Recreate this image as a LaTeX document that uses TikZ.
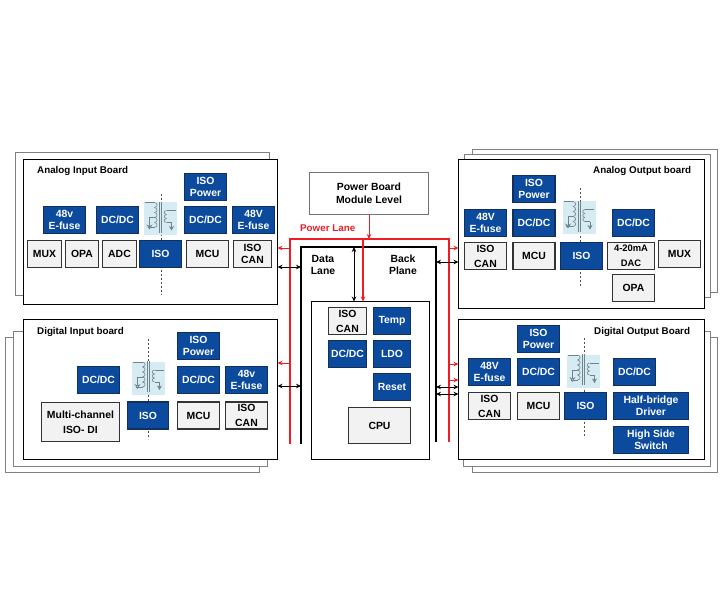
\documentclass[tikz,border=0pt]{standalone}
\usepackage{fontspec}
\usetikzlibrary{arrows.meta}
\setmainfont{Liberation Sans}
\definecolor{blockblue}{HTML}{0B4A9C}
\definecolor{blockedge}{HTML}{12305C}
\definecolor{blockgray}{HTML}{F2F2F2}
\definecolor{lanered}{HTML}{EE1C25}
\definecolor{tilecyan}{HTML}{D6ECF2}
\definecolor{coilgray}{HTML}{6F858C}
\newcommand{\lbl}{\fontsize{10.4}{12.5}\selectfont\bfseries}
\newcommand{\ttl}{\fontsize{9.8}{12}\selectfont\bfseries}
\tikzset{
  >={Stealth[length=5pt,width=4.5pt]},
  plate/.style={draw=black!50,fill=white,line width=0.9pt,inner sep=0pt,outer sep=0pt},
  board/.style={draw=black,fill=white,line width=1.2pt,inner sep=0pt,outer sep=0pt},
  blueblk/.style={draw=blockedge,fill=blockblue,text=white,line width=1.1pt,font=\lbl,align=center,
    minimum width=42pt,minimum height=27pt,inner sep=0pt,outer sep=0pt},
  grayblk/.style={draw=black!80,fill=blockgray,text=black,line width=1.1pt,font=\lbl,align=center,
    minimum width=42pt,minimum height=27pt,inner sep=0pt,outer sep=0pt},
  title/.style={font=\ttl,anchor=west,inner sep=0pt},
  barrier/.style={draw=black!70,line width=0.7pt,dash pattern=on 2pt off 2pt},
  redrail/.style={draw=lanered,line width=1.6pt},
  blackrail/.style={draw=black,line width=1.3pt},
  redlink/.style={draw=lanered,line width=0.8pt,->},
  datalink/.style={draw=black,line width=0.8pt,<->},
  coil/.style={draw=coilgray,line width=0.6pt},
  xfmr/.pic={
    \fill[tilecyan] (-16.5,-16.5) rectangle (16.5,16.5);
    \draw[coil] (-15.5,-16) -- (-6,-16);
    \foreach \i in {0,...,4}
      \draw[coil] (-6,-16+\i*5) .. controls (-2.5,-15.5+\i*5) and (-2.5,-11.5+\i*5) .. (-6,-11+\i*5);
    \draw[coil] (-6,9) -- (-13,9);
    \draw[coil] (-6,-1) -- (-11,-1) -- (-11,8);
    \draw[coil,-{Stealth[open,length=5pt,width=6pt]}] (-11,-1) -- (-11,11);
    \draw[coil,line width=0.8pt] (-0.9,-17) -- (-0.9,14) (0.9,-17) -- (0.9,14);
    \draw[coil] (15,-8) -- (6,-8);
    \foreach \i in {0,1,2}
      \draw[coil] (6,-8+\i*4) .. controls (3,-7.5+\i*4) and (3,-4.5+\i*4) .. (6,-4+\i*4);
    \draw[coil] (6,4) -- (11,4);
    \draw[coil,-{Stealth[length=4.5pt,width=5pt]}] (11,4) -- (11,12);
  }
}
\begin{document}
\begin{tikzpicture}[x=1pt,y=-1pt]
  \useasboundingbox (0,0) rectangle (720,600);
  % boards, the ones behind first
  \node[plate,minimum width=254pt,minimum height=143pt] (aiPlate) at (142.5,224) {};
  \node[plate,minimum width=254pt,minimum height=135pt] (diPlateB) at (132.5,405) {};
  \node[plate,minimum width=254pt,minimum height=135pt] (diPlateA) at (140.5,399) {};
  \node[plate,minimum width=245pt,minimum height=143pt] (aoPlateB) at (595,221) {};
  \node[plate,minimum width=246pt,minimum height=143pt] (aoPlateA) at (587.5,226) {};
  \node[plate,minimum width=245pt,minimum height=135pt] (doPlateB) at (595,405) {};
  \node[plate,minimum width=247pt,minimum height=135pt] (doPlateA) at (587,399) {};
  \node[board,minimum width=254pt,minimum height=145pt] (aiBoard) at (150.5,232) {};
  \node[board,minimum width=254pt,minimum height=140pt] (diBoard) at (150.5,389.5) {};
  \node[board,minimum width=246pt,minimum height=149pt] (aoBoard) at (581.5,234) {};
  \node[board,minimum width=246pt,minimum height=140pt] (doBoard) at (581.5,389.5) {};
  \node[title] (aiTitle) at (37,171) {Analog Input Board};
  \node[title] (diTitle) at (37,332) {Digital Input board};
  \node[title] (aoTitle) at (593,171) {Analog Output board};
  \node[title] (doTitle) at (594,332) {Digital Output Board};
  % power board and the two lanes
  \node[plate,draw=black!55,font=\lbl,align=center,minimum width=119pt,minimum height=42pt] (power) at (369,193.5)
    {Power Board\\Module Level};
  \node[title,text=lanered] (laneTitle) at (300,228) {Power Lane};
  \node[board,minimum width=118pt,minimum height=158pt] (module) at (370.5,380.5) {};
  \node[title,anchor=center,align=center,font=\lbl] (dataTitle) at (323,265) {Data\\Lane};
  \node[title,anchor=center,align=center,font=\lbl] (backTitle) at (403,265) {Back\\Plane};
  \coordinate (redLB) at (290,444);
  \coordinate (redLT) at (290,239);
  \coordinate (redRT) at (449,239);
  \coordinate (redRB) at (449,442);
  \coordinate (blackLB) at (301,444);
  \coordinate (blackLT) at (301,247);
  \coordinate (blackRT) at (436,247);
  \coordinate (blackRB) at (436,442);
  \coordinate (tapRed) at (363,239);
  \coordinate (tapData) at (354,247);
  \draw[redrail] (redLB) -- (redLT) -- (redRT) -- (redRB);
  \draw[blackrail] (blackLB) -- (blackLT) -- (blackRT) -- (blackRB);
  \draw[redlink] (power) -- (power |- redLT);
  \draw[redlink,line width=1.3pt] (tapRed) -- (tapRed |- module.north);
  \draw[datalink] (tapData) -- (tapData |- module.north);
  % links to the boards
  \coordinate (redAI) at (290,248);
  \coordinate (redDI) at (290,363);
  \coordinate (redAO) at (449,248);
  \coordinate (redDOa) at (449,364);
  \coordinate (redDOb) at (449,380);
  \coordinate (dataAI) at (301,267);
  \coordinate (dataDI) at (301,386);
  \coordinate (dataAO) at (436,262);
  \coordinate (dataDOa) at (436,387);
  \coordinate (dataDOb) at (436,394);
  \draw[redlink] (redAI) -- (aiBoard.east |- redAI);
  \draw[redlink] (redDI) -- (diBoard.east |- redDI);
  \draw[redlink] (redAO) -- (aoBoard.west |- redAO);
  \draw[redlink] (redDOa) -- (doBoard.west |- redDOa);
  \draw[redlink] (redDOb) -- (doBoard.west |- redDOb);
  \draw[datalink] (dataAI) -- (aiBoard.east |- dataAI);
  \draw[datalink] (dataDI) -- (diBoard.east |- dataDI);
  \draw[datalink] (dataAO) -- (aoBoard.west |- dataAO);
  \draw[datalink] (dataDOa) -- (doBoard.west |- dataDOa);
  \draw[datalink] (dataDOb) -- (doBoard.west |- dataDOb);
  % analog input board
  \coordinate (aiBarTop) at (161,194);
  \coordinate (aiBarBot) at (161,295);
  \draw[barrier] (aiBarTop) -- (aiBarBot);
  \pic at (160.5,218.5) {xfmr};
  \node[blueblk] (aiPower) at (205.5,187) {ISO\\Power};
  \node[blueblk] (aiFuseL) at (64.5,220) {48v\\E-fuse};
  \node[blueblk] (aiDcL) at (117.5,220) {DC/DC};
  \node[blueblk] (aiDcR) at (205.5,220) {DC/DC};
  \node[blueblk] (aiFuseR) at (253.5,220) {48V\\E-fuse};
  \node[grayblk,minimum width=34pt] (aiMux) at (44.5,254) {MUX};
  \node[grayblk,minimum width=33pt] (aiOpa) at (82,254) {OPA};
  \node[grayblk,minimum width=34pt] (aiAdc) at (119.5,254) {ADC};
  \node[blueblk] (aiIso) at (160.5,254) {ISO};
  \node[grayblk] (aiMcu) at (207.5,254) {MCU};
  \node[grayblk,minimum width=38pt] (aiCan) at (252.5,254) {ISO\\CAN};
  % digital input board
  \coordinate (diBarTop) at (148,339);
  \coordinate (diBarBot) at (148,439);
  \draw[barrier] (diBarTop) -- (diBarBot);
  \pic at (148.5,378) {xfmr};
  \node[blueblk] (diPower) at (198.5,346) {ISO\\Power};
  \node[blueblk] (diDcL) at (98.5,380) {DC/DC};
  \node[blueblk] (diDcR) at (198.5,380) {DC/DC};
  \node[blueblk] (diFuse) at (246.5,380) {48v\\E-fuse};
  \node[grayblk,minimum width=78pt,minimum height=39pt] (diMulti) at (80.5,422) {Multi-channel\\[2.5pt]ISO- DI};
  \node[blueblk,minimum width=41pt] (diIso) at (148,415.5) {ISO};
  \node[grayblk] (diMcu) at (198.5,415.5) {MCU};
  \node[grayblk] (diCan) at (246.5,415.5) {ISO\\[2.5pt]CAN};
  % analog output board
  \coordinate (aoBarTop) at (580,188);
  \coordinate (aoBarBot) at (580,287);
  \draw[barrier] (aoBarTop) -- (aoBarBot);
  \pic at (579,217.5) {xfmr};
  \node[blueblk] (aoPower) at (534,189) {ISO\\Power};
  \node[blueblk] (aoFuse) at (485.5,223) {48V\\E-fuse};
  \node[blueblk] (aoDcL) at (534,223) {DC/DC};
  \node[blueblk] (aoDcR) at (633.5,223) {DC/DC};
  \node[grayblk] (aoCan) at (485.5,256) {ISO\\[2.5pt]CAN};
  \node[grayblk] (aoMcu) at (534,256) {MCU};
  \node[blueblk] (aoIso) at (581.5,256) {ISO};
  \node[grayblk,minimum width=47pt,font=\fontsize{9.4}{12}\selectfont\bfseries] (aoDac) at (631,256) {4-20mA\\[2.5pt]DAC};
  \node[grayblk] (aoMux) at (679.5,254) {MUX};
  \node[grayblk] (aoOpa) at (633.5,288) {OPA};
  % digital output board
  \coordinate (doBarTop) at (584,338);
  \coordinate (doBarBot) at (584,438);
  \draw[barrier] (doBarTop) -- (doBarBot);
  \pic at (583.5,371) {xfmr};
  \node[blueblk] (doPower) at (538.5,339) {ISO\\Power};
  \node[blueblk] (doFuse) at (489.5,372) {48V\\E-fuse};
  \node[blueblk] (doDcL) at (538.5,372) {DC/DC};
  \node[blueblk] (doDcR) at (634.5,372) {DC/DC};
  \node[grayblk] (doCan) at (489.5,406) {ISO\\[2.5pt]CAN};
  \node[grayblk] (doMcu) at (538.5,406) {MCU};
  \node[blueblk] (doIso) at (585.5,406) {ISO};
  \node[blueblk,minimum width=75pt] (doBridge) at (651,406) {Half-bridge\\Driver};
  \node[blueblk,minimum width=75pt] (doSwitch) at (651,440) {High Side\\Switch};
  % cpu module
  \node[grayblk,minimum width=38pt] (cmCan) at (347.5,321) {ISO\\[2.5pt]CAN};
  \node[blueblk,minimum width=37pt] (cmTemp) at (392,321) {Temp};
  \node[blueblk,minimum width=38pt] (cmDc) at (347.5,354) {DC/DC};
  \node[blueblk,minimum width=37pt] (cmLdo) at (392,354) {LDO};
  \node[blueblk,minimum width=37pt] (cmReset) at (392,387) {Reset};
  \node[grayblk,minimum width=62pt,minimum height=36pt] (cmCpu) at (379.5,425.5) {CPU};
\end{tikzpicture}
\end{document}
